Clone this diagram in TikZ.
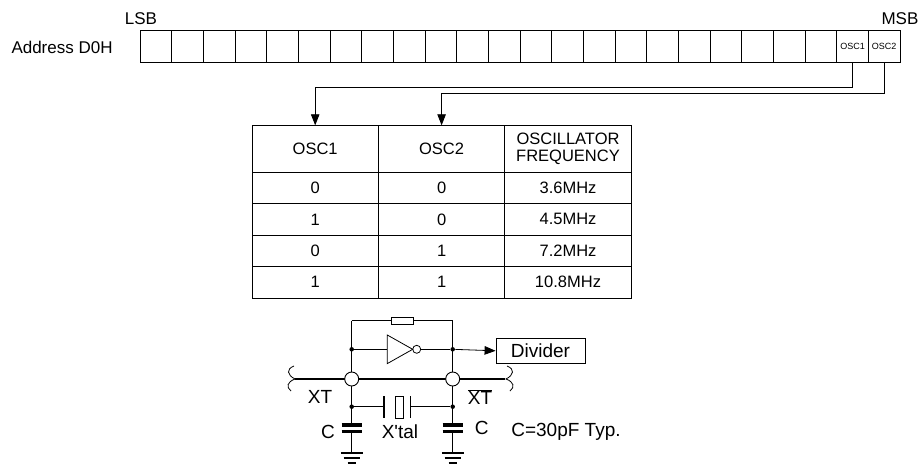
\documentclass[tikz,border=0pt]{standalone}
\usepackage{fontspec}
\setmainfont{Liberation Sans}
\usetikzlibrary{arrows.meta}
\begin{document}
\begin{tikzpicture}[x=1pt,y=-1pt,
  line width=0.8pt,
  txt/.style={font=\fontsize{17}{19}\selectfont, inner sep=0pt},
  ctxt/.style={font=\fontsize{19}{21}\selectfont, inner sep=0pt},
  cell/.style={draw, minimum width=31.67pt, minimum height=31.6pt, inner sep=0pt, font=\fontsize{9}{10}\selectfont},
  tcell/.style={draw, minimum width=126.4pt, minimum height=31.4pt, inner sep=0pt, font=\fontsize{16.5}{19}\selectfont, align=center},
  hcell/.style={tcell, minimum height=46.6pt},
  arr/.style={-{Triangle[length=11pt,width=8.5pt]}},
  dot/.style={circle, fill, inner sep=0pt, minimum size=4.5pt},
  junc/.style={circle, draw, fill=white, inner sep=0pt, minimum size=14pt, line width=0.9pt},
  plate/.style={line width=3.2pt},
  gnd/.style={line width=2.2pt},
]
\useasboundingbox (0,0) rectangle (919,466);

% register
\node[txt] (lsb) at (141,19) {LSB};
\node[txt] (msb) at (900,19) {MSB};
\node[txt, anchor=east] (addr) at (113,47) {Address D0H};
\foreach \i in {1,...,22} {
  \node[cell] (c\i) at ({140+(\i-0.5)*31.667},46.5) {};
}
\node[cell] (c23) at ({140+22.5*31.667},46.5) {OSC1};
\node[cell] (c24) at ({140+23.5*31.667},46.5) {OSC2};

% table
\node[hcell] (h1) at (315.2,149) {OSC1};
\node[hcell] (h2) at (441.6,149) {OSC2};
\node[hcell] (h3) at (568,149) {OSCILLATOR\\[-2pt]FREQUENCY};
\foreach \r/\a/\b/\f in {1/0/0/3.6MHz, 2/1/0/4.5MHz, 3/0/1/7.2MHz, 4/1/1/10.8MHz} {
  \node[tcell] (r\r a) at (315.2,{172.3+(\r-0.5)*31.4}) {\a};
  \node[tcell] (r\r b) at (441.6,{172.3+(\r-0.5)*31.4}) {\b};
  \node[tcell] (r\r c) at (568,{172.3+(\r-0.5)*31.4}) {\f};
}

% connectors
\coordinate (k1) at (315.2,87);
\coordinate (k2) at (441.6,93.3);
\draw[arr] (c23.south) |- (k1) -- (h1.north);
\draw[arr] (c24.south) |- (k2) -- (h2.north);

% circuit
\def\L{351.7}
\def\R{452.7}
\node[dot] (d1) at (\L,349.3) {};
\node[dot] (d2) at (\R,349.3) {};
\node[dot] (d3) at (\L,406.7) {};
\node[dot] (d4) at (\R,406.7) {};
\node[draw, minimum width=22pt, minimum height=7pt, inner sep=0pt, fill=white] (res) at (402.8,320.8) {};
\coordinate (t1) at (\L,320.8);
\coordinate (t2) at (\R,320.8);
\draw (t1) -- (res.west);
\draw (res.east) -- (t2);
% inverter
\coordinate (inin) at (387.3,349.3);
\coordinate (inout) at (420.7,349.3);
\draw (387.3,335) -- (412.7,349.3) -- (387.3,363.6) -- cycle;
\draw (416.7,349.3) circle (4pt);
\draw (d1) -- (inin);
\draw (inout) -- (d2);
\node[draw, ctxt, minimum width=89pt, minimum height=25pt] (div) at (540.5,350.8) {Divider};
\draw[arr] (d2) -- (div.west);
% main line
\coordinate (ml) at (295,379);
\coordinate (mr) at (505,379);
\draw[line width=1.6pt] (ml) -- (mr);
\draw (294,366) .. controls (286,369) and (287,375) .. (295,379) .. controls (287,382) and (286,387) .. (291,391);
\draw (507,366) .. controls (515,369) and (514,375) .. (506,379) .. controls (514,382) and (515,387) .. (510,391);
% verticals
\draw (t1) -- (\L,425);
\draw (t2) -- (\R,425);
\draw (\L,431.7) -- (\L,453.3);
\draw (\R,431.7) -- (\R,453.3);
\node[junc] (j1) at (\L,379) {};
\node[junc] (j2) at (\R,379) {};
% crystal
\draw (d3) -- (384,406.7);
\draw (410.7,406.7) -- (d4);
\draw[line width=1.2pt] (384,396) -- (384,418);
\draw[line width=1.2pt] (410.7,396) -- (410.7,418);
\draw (395,396) rectangle (403.3,418.3);
% caps
\draw[plate] (341.7,425) -- (361.7,425);
\draw[plate] (341.7,431.7) -- (361.7,431.7);
\draw[plate] (442.7,425) -- (463.3,425);
\draw[plate] (442.7,431.7) -- (463.3,431.7);
% grounds
\foreach \x in {\L,\R} {
  \draw[gnd] (\x-10.8,453.3) -- (\x+10.8,453.3);
  \draw[gnd] (\x-8,458.3) -- (\x+8,458.3);
  \draw[gnd] (\x-4,463.3) -- (\x+4,463.3);
}
% labels
\node[ctxt] (xt) at (320,396.7) {XT};
\node[ctxt] (xtb) at (480,396.7) {$\overline{\mbox{XT}}$};
\node[ctxt] (cl) at (328,431.7) {C};
\node[ctxt] (cr) at (481.7,428.3) {C};
\node[ctxt] (xtal) at (400,431.7) {X\textquotesingle tal};
\node[ctxt] (cval) at (566,431.7) {C=30pF Typ.};
\end{tikzpicture}
\end{document}
